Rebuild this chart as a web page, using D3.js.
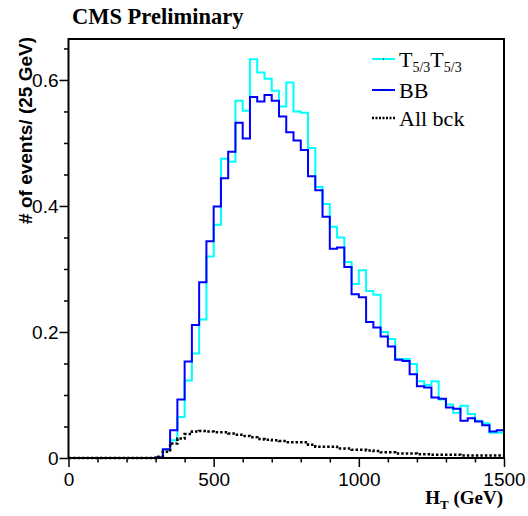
<!DOCTYPE html>
<html lang="en">
    <head>
        <meta charset="utf-8">
        <title>HT distribution</title>
        <style>
            body { margin: 0; background: white; }
            .tick text { font-family: "Liberation Sans", Arial, sans-serif; font-size: 19px; fill: black; }
            .tick line { stroke: black; stroke-width: 1.5; }
            .serif { font-family: "Liberation Serif", "Times New Roman", serif; }
        </style>
    </head>
    <body>
        <div id="wrapper"></div>
        <script src="https://cdn.jsdelivr.net/npm/d3@7"></script>
        <script>
            // 25 GeV bins from 0 to 1500
            const binEdges = d3.range(0, 1500, 25)

            const tprimeValues = [
                0, 0, 0, 0, 0, 0, 0, 0, 0, 0, 0, 0,
                0.000, 0.013, 0.028, 0.065, 0.123, 0.166, 0.220, 0.320, 0.370, 0.475,
                0.470, 0.567, 0.551, 0.633, 0.612, 0.602, 0.583, 0.558, 0.596, 0.550,
                0.548, 0.492, 0.430, 0.403, 0.367, 0.350, 0.311, 0.276, 0.298, 0.265,
                0.259, 0.200, 0.189, 0.157, 0.157, 0.149, 0.122, 0.116, 0.122, 0.093,
                0.085, 0.072, 0.083, 0.070, 0.059, 0.055, 0.040, 0.040
            ]
            const bbValues = [
                0, 0, 0, 0, 0, 0, 0, 0, 0, 0, 0, 0,
                0.001, 0.014, 0.044, 0.093, 0.153, 0.211, 0.279, 0.344, 0.399, 0.444,
                0.486, 0.532, 0.507, 0.573, 0.566, 0.576, 0.567, 0.542, 0.517, 0.504,
                0.489, 0.447, 0.425, 0.383, 0.332, 0.334, 0.303, 0.260, 0.255, 0.216,
                0.207, 0.193, 0.177, 0.156, 0.154, 0.133, 0.114, 0.112, 0.096, 0.094,
                0.080, 0.078, 0.059, 0.063, 0.058, 0.052, 0.042, 0.044
            ]
            const bckValues = [
                0, 0, 0, 0, 0, 0, 0, 0, 0, 0, 0, 0,
                0.002, 0.010, 0.023, 0.031, 0.038, 0.042, 0.043, 0.042, 0.041, 0.041,
                0.039, 0.037, 0.035, 0.033, 0.030, 0.029, 0.028, 0.027, 0.025, 0.025,
                0.025, 0.021, 0.018, 0.018, 0.018, 0.015, 0.015, 0.013, 0.013, 0.012,
                0.011, 0.009, 0.009, 0.007, 0.007, 0.007, 0.006, 0.006, 0.005, 0.005,
                0.005, 0.005, 0.004, 0.004, 0.004, 0.004, 0.004, 0.004
            ]

            const xTicks = [0, 500, 1000, 1500]
            const xMinorTicks = [100, 200, 300, 400, 600, 700, 800, 900, 1100, 1200, 1300, 1400]
            const yTicks = [0, 0.2, 0.4, 0.6]
            const yMinorTicks = [0.05, 0.1, 0.15, 0.25, 0.3, 0.35, 0.45, 0.5, 0.55, 0.65]

            const legendItems = ["tprime", "bb", "bck"]

            function drawChart() {
                const dimensions = {
                    width: 528,
                    height: 516,
                    left: 68.5,
                    right: 504,
                    top: 39,
                    bottom: 458,
                }

                const svg = d3.select("#wrapper")
                    .append("svg")
                    .attr("width", dimensions.width)
                    .attr("height", dimensions.height)

                const xScale = d3.scaleLinear()
                    .domain([0, 1500])
                    .range([dimensions.left, dimensions.right])
                const yScale = d3.scaleLinear()
                    .domain([0, 0.665])
                    .range([dimensions.bottom, dimensions.top])

                // minor ticks first, then major with labels
                const xMinorAxis = d3.axisBottom(xScale).tickValues(xMinorTicks).tickSize(4.5).tickFormat("")
                const xAxis = d3.axisBottom(xScale).tickValues(xTicks).tickSize(9).tickPadding(6).tickFormat(d3.format("d"))
                const yMinorAxis = d3.axisLeft(yScale).tickValues(yMinorTicks).tickSize(4.5).tickFormat("")
                const yAxis = d3.axisLeft(yScale).tickValues(yTicks).tickSize(9).tickPadding(1)
                    .tickFormat(d => d === 0 ? "0" : d3.format(".1f")(d))

                const xg = svg.append("g").attr("transform", `translate(0,${dimensions.bottom})`)
                xg.append("g").call(xMinorAxis)
                xg.append("g").call(xAxis)
                const yg = svg.append("g").attr("transform", `translate(${dimensions.left},0)`)
                yg.append("g").call(yMinorAxis)
                yg.append("g").call(yAxis)
                svg.selectAll(".domain").remove()

                // step outline of each histogram
                const stepLine = d3.line()
                    .x(d => xScale(d[0]))
                    .y(d => yScale(d[1]))
                    .curve(d3.curveStepAfter)
                const toPoints = values => {
                    const pts = binEdges.map((e, i) => [e, values[i]])
                    pts.push([1500, values[values.length - 1]])
                    return pts
                }

                svg.append("path")
                    .attr("d", stepLine(toPoints(tprimeValues)))
                    .attr("fill", "none")
                    .attr("stroke", "#00ffff")
                    .attr("stroke-width", 2)
                svg.append("path")
                    .attr("d", stepLine(toPoints(bbValues)))
                    .attr("fill", "none")
                    .attr("stroke", "#0000ff")
                    .attr("stroke-width", 2)
                svg.append("path")
                    .attr("d", stepLine(toPoints(bckValues)))
                    .attr("fill", "none")
                    .attr("stroke", "black")
                    .attr("stroke-width", 2.5)
                    .attr("stroke-dasharray", "2.5,2")

                // frame
                svg.append("rect")
                    .attr("x", dimensions.left)
                    .attr("y", dimensions.top)
                    .attr("width", dimensions.right - dimensions.left)
                    .attr("height", dimensions.bottom - dimensions.top)
                    .attr("fill", "none")
                    .attr("stroke", "black")
                    .attr("stroke-width", 2)

                // titles
                svg.append("text")
                    .attr("class", "serif")
                    .attr("x", 72)
                    .attr("y", 24)
                    .style("font-weight", "bold")
                    .style("font-size", "22.5px")
                    .text("CMS Preliminary")

                svg.append("text")
                    .attr("transform", "translate(32,37) rotate(-90)")
                    .attr("text-anchor", "end")
                    .style("font-family", "'Liberation Sans', Arial, sans-serif")
                    .style("font-weight", "bold")
                    .style("font-size", "19px")
                    .text("# of events/ (25 GeV)")

                const xTitle = svg.append("text")
                    .attr("class", "serif")
                    .attr("x", 503)
                    .attr("y", 504)
                    .attr("text-anchor", "end")
                    .style("font-weight", "bold")
                    .style("font-size", "19px")
                xTitle.append("tspan").text("H")
                xTitle.append("tspan").attr("dy", 5).style("font-size", "13px").text("T")
                xTitle.append("tspan").attr("dy", -5).text(" (GeV)")

                // legend
                const legendStyle = {
                    tprime: { color: "#00ffff", dash: null, width: 2, y: 59 },
                    bb: { color: "#0000ff", dash: null, width: 2, y: 90 },
                    bck: { color: "black", dash: "2,1.5", width: 2.5, y: 118 },
                }
                const legend = svg.append("g")
                legendItems.forEach(key => {
                    const s = legendStyle[key]
                    legend.append("line")
                        .attr("x1", 372).attr("x2", 395)
                        .attr("y1", s.y).attr("y2", s.y)
                        .attr("stroke", s.color)
                        .attr("stroke-width", s.width)
                        .attr("stroke-dasharray", s.dash)
                    if (key !== "bck") {
                        legend.append("rect")
                            .attr("x", 383).attr("y", s.y - 0.5)
                            .attr("width", 1).attr("height", 1)
                            .attr("fill", "black")
                    }
                    const t = legend.append("text")
                        .attr("class", "serif")
                        .attr("x", 399)
                        .attr("y", s.y + 7.5)
                        .style("font-size", "22px")
                    if (key === "tprime") {
                        t.append("tspan").text("T")
                        t.append("tspan").attr("dy", 5).style("font-size", "14px").text("5/3")
                        t.append("tspan").attr("dy", -5).text("T")
                        t.append("tspan").attr("dy", 5).style("font-size", "14px").text("5/3")
                    } else if (key === "bb") {
                        t.text("BB")
                    } else {
                        t.text("All bck")
                    }
                })
            }
            drawChart()
        </script>
    </body>
</html>
